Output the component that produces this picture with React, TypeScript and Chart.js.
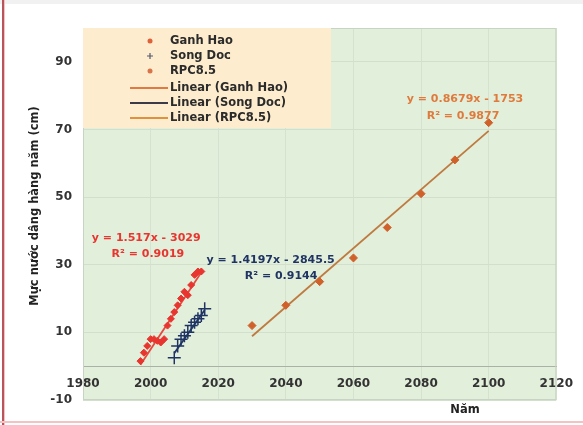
import React, { useEffect, useRef } from "react";
import { Chart, registerables } from "chart.js";

Chart.register(...registerables);

// Observed annual sea level (cm)
const ganhHaoYears = [1997, 1998, 1999, 2000, 2001, 2002, 2003, 2004, 2005, 2006, 2007, 2008, 2009, 2010, 2011, 2012, 2013, 2014, 2015];
const ganhHaoValues = [1.5, 4, 6, 8, 8, 7.5, 7, 8, 12, 14, 16, 18, 20, 22, 21, 24, 27, 28, 28];

const songDocYears = [2007, 2008, 2009, 2010, 2011, 2012, 2013, 2014, 2015, 2016];
const songDocValues = [2.5, 6, 8, 9, 10, 12, 13, 14, 15, 17];

// RCP8.5 scenario
const rpcYears = [2030, 2040, 2050, 2060, 2070, 2080, 2090, 2100];
const rpcValues = [12, 18, 25, 32, 41, 51, 61, 72];

// Linear trend coefficients [slope, intercept, from, to]
const ganhHaoTrend = [1.517, -3029, 1997, 2015];
const songDocTrend = [1.4197, -2845.5, 2007, 2016];
const rpcTrend = [0.8679, -1753, 2030, 2100];

const xTicks = [1980, 2000, 2020, 2040, 2060, 2080, 2100, 2120];
const yTicks = [-10, 10, 30, 50, 70, 90];

const seriesNames = ["Ganh Hao", "Song Doc", "RPC8.5", "Linear (Ganh Hao)", "Linear (Song Doc)", "Linear (RPC8.5)"];

const eqGanhHao = ["y = 1.517x - 3029", "R² = 0.9019"];
const eqSongDoc = ["y = 1.4197x - 2845.5", "R² = 0.9144"];
const eqRpc = ["y = 0.8679x - 1753", "R² = 0.9877"];

const yTitle = "Mực nước dâng hàng năm (cm)";
const xTitle = "Năm";

const RED = "#e8352f";
const NAVY = "#1f3463";
const ORANGE = "#d0612b";
const RED_LINE = "#e8473f";
const RPC_LINE = "#bf7a40";
const FONT = "'DejaVu Sans', sans-serif";

const toPoints = (xs: number[], ys: number[]) => xs.map((x, i) => ({ x, y: ys[i] }));
const trendPoints = (t: number[]) => [
  { x: t[2], y: t[0] * t[2] + t[1] },
  { x: t[3], y: t[0] * t[3] + t[1] },
];

const decor = {
  id: "decor",
  beforeDraw(chart: any) {
    const { ctx, chartArea: a, width, height } = chart;
    ctx.save();
    ctx.fillStyle = "#ffffff";
    ctx.fillRect(0, 0, width, height);
    // frame edges
    ctx.fillStyle = "#f1f1f1";
    ctx.fillRect(0, 0, width, 4);
    ctx.fillStyle = "#b9545c";
    ctx.fillRect(2, 0, 2, height);
    ctx.fillStyle = "#f3c2c2";
    ctx.fillRect(4, 0, 1, height);
    ctx.fillRect(0, height - 4, width, 2);
    // plot area
    ctx.fillStyle = "#e2efdb";
    ctx.fillRect(a.left, a.top, a.right - a.left, a.bottom - a.top);
    ctx.restore();
  },
  afterDatasetsDraw(chart: any) {
    const { ctx, chartArea: a, scales } = chart;
    const xs = scales.x;
    const ys = scales.y;
    ctx.save();
    ctx.strokeStyle = "#c9d3c4";
    ctx.lineWidth = 1;
    ctx.strokeRect(a.left + 0.5, a.top + 0.5, a.right - a.left - 1, a.bottom - a.top - 1);

    // legend panel
    const lx = a.left;
    const ly = a.top;
    ctx.fillStyle = "#fdeccd";
    ctx.fillRect(lx, ly, 248, 100);
    ctx.font = `bold 11.5px ${FONT}`;
    ctx.textBaseline = "middle";
    ctx.textAlign = "left";
    const rows = [13, 28, 43, 60, 75, 90];
    const mx = lx + 67;
    const tx = lx + 87;
    rows.forEach((dy, i) => {
      const yy = ly + dy;
      ctx.fillStyle = "#2b2b2b";
      ctx.fillText(seriesNames[i], tx, yy);
    });
    // markers
    ctx.fillStyle = "#e0603a";
    ctx.beginPath();
    ctx.arc(mx, ly + rows[0], 2.5, 0, Math.PI * 2);
    ctx.fill();
    ctx.strokeStyle = "#555a70";
    ctx.lineWidth = 1.2;
    ctx.beginPath();
    ctx.moveTo(mx - 3, ly + rows[1]);
    ctx.lineTo(mx + 3, ly + rows[1]);
    ctx.moveTo(mx, ly + rows[1] - 3);
    ctx.lineTo(mx, ly + rows[1] + 3);
    ctx.stroke();
    ctx.fillStyle = "#d9744a";
    ctx.beginPath();
    ctx.arc(mx, ly + rows[2], 2.5, 0, Math.PI * 2);
    ctx.fill();
    const lineCols = ["#e07a45", "#3a3a48", "#e0913f"];
    lineCols.forEach((c, i) => {
      ctx.strokeStyle = c;
      ctx.lineWidth = 2;
      ctx.beginPath();
      ctx.moveTo(lx + 47, ly + rows[3 + i]);
      ctx.lineTo(lx + 85, ly + rows[3 + i]);
      ctx.stroke();
    });

    // trend equations
    const eq = (lines: string[], color: string, x1: number, y1: number, x2: number, y2: number) => {
      ctx.font = `bold 11px ${FONT}`;
      ctx.textAlign = "center";
      ctx.fillStyle = color;
      ctx.fillText(lines[0], xs.getPixelForValue(x1), ys.getPixelForValue(y1));
      ctx.fillText(lines[1], xs.getPixelForValue(x2), ys.getPixelForValue(y2));
    };
    eq(eqGanhHao, RED, 1998.7, 37.9, 1999.2, 33.2);
    eq(eqSongDoc, NAVY, 2035.5, 31.5, 2038.6, 26.5);
    eq(eqRpc, "#df7a3c", 2093, 79, 2092.4, 74);

    // axis titles
    ctx.fillStyle = "#222";
    ctx.font = `bold 11.5px ${FONT}`;
    ctx.textAlign = "center";
    ctx.fillText(xTitle, 465, 410);
    ctx.translate(35, 206);
    ctx.rotate(-Math.PI / 2);
    ctx.fillText(yTitle, 0, 0);
    ctx.restore();
  },
};

export default function App() {
  const ref = useRef<HTMLCanvasElement>(null);
  useEffect(() => {
    if (!ref.current) return;
    const chart = new Chart(ref.current, {
      type: "scatter",
      data: {
        datasets: [
          {
            label: seriesNames[0],
            data: toPoints(ganhHaoYears, ganhHaoValues),
            pointStyle: "rectRot",
            pointRadius: 3.5,
            backgroundColor: RED,
            borderColor: RED,
            borderWidth: 1,
          },
          {
            label: seriesNames[1],
            data: toPoints(songDocYears, songDocValues),
            pointStyle: "cross",
            pointRadius: 6.5,
            backgroundColor: NAVY,
            borderColor: NAVY,
            borderWidth: 1.5,
          },
          {
            label: seriesNames[2],
            data: toPoints(rpcYears, rpcValues),
            pointStyle: "rectRot",
            pointRadius: 4,
            backgroundColor: ORANGE,
            borderColor: ORANGE,
            borderWidth: 1,
          },
          {
            type: "line",
            label: seriesNames[3],
            data: trendPoints(ganhHaoTrend),
            borderColor: RED_LINE,
            borderWidth: 1.8,
            pointRadius: 0,
            showLine: true,
          },
          {
            type: "line",
            label: seriesNames[4],
            data: trendPoints(songDocTrend),
            borderColor: NAVY,
            borderWidth: 1.8,
            pointRadius: 0,
            showLine: true,
          },
          {
            type: "line",
            label: seriesNames[5],
            data: trendPoints(rpcTrend),
            borderColor: RPC_LINE,
            borderWidth: 1.8,
            pointRadius: 0,
            showLine: true,
          },
        ] as any,
      },
      options: {
        responsive: false,
        animation: false,
        layout: { padding: { left: 0, top: 28, right: 26, bottom: 25 } },
        plugins: { legend: { display: false }, tooltip: { enabled: false } },
        scales: {
          x: {
            type: "linear",
            position: { y: 0 } as any,
            min: 1980,
            max: 2120,
            afterBuildTicks: (s: any) => {
              s.ticks = xTicks.map((v) => ({ value: v }));
            },
            grid: { color: "#d5e2cf", drawTicks: false },
            border: { color: "#a9b2a5", width: 1 },
            ticks: {
              padding: 10,
              color: "#333",
              font: { family: FONT, weight: "bold", size: 12 },
              maxRotation: 0,
              autoSkip: false,
              callback: (v: any) => String(v),
            },
          },
          y: {
            type: "linear",
            min: -10,
            max: 100,
            afterBuildTicks: (s: any) => {
              s.ticks = yTicks.map((v) => ({ value: v }));
            },
            afterFit: (s: any) => {
              s.width = 83;
            },
            grid: { color: "#d2dfcc", drawTicks: false },
            border: { display: false },
            ticks: {
              padding: 11,
              color: "#333",
              font: { family: FONT, weight: "bold", size: 12 },
              callback: (v: any) => String(v),
            },
          },
        },
      },
      plugins: [decor],
    });
    return () => chart.destroy();
  }, []);
  return (
    <div style={{ position: "absolute", left: 0, top: 0, width: 583, height: 425 }}>
      <canvas ref={ref} width={583} height={425} />
    </div>
  );
}
